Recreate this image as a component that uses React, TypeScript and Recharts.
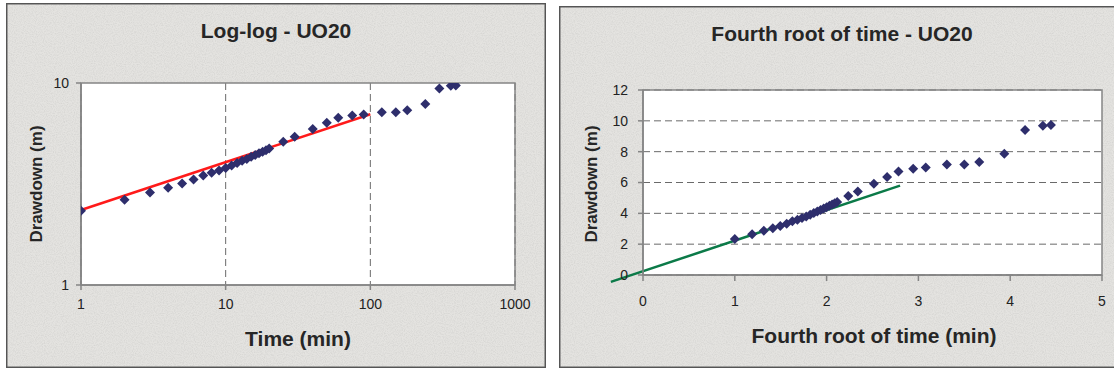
import { CartesianGrid, ReferenceArea, ReferenceLine, Scatter, ScatterChart, XAxis, YAxis } from "recharts";

// pumping test UO20, time since start of pumping (min) and drawdown (m)
const timeMin = [1, 2, 3, 4, 5, 6, 7, 8, 9, 10, 11, 12, 13, 14, 15, 16, 17, 18, 19, 20, 25, 30, 40, 50, 60, 75, 90, 120, 150, 180, 240, 300, 360, 390];
const drawdownM = [
  2.33, 2.64, 2.87, 3.03, 3.18, 3.33, 3.48, 3.59, 3.69, 3.79, 3.91, 4.02, 4.12, 4.21, 4.31, 4.4, 4.49, 4.57, 4.65, 4.74,
  5.12, 5.42, 5.92, 6.36, 6.72, 6.9, 6.98, 7.17, 7.17, 7.33, 7.86, 9.4, 9.68, 9.73,
];
// fourth root of the same times
const fourthRootTime = [
  1.0, 1.189, 1.316, 1.414, 1.495, 1.565, 1.627, 1.682, 1.732, 1.778, 1.821, 1.861, 1.899, 1.934, 1.968, 2.0, 2.031, 2.06, 2.088, 2.115,
  2.236, 2.34, 2.515, 2.659, 2.783, 2.943, 3.08, 3.31, 3.5, 3.663, 3.936, 4.162, 4.356, 4.444,
];

const logTicksX = [1, 10, 100, 1000];
const logTicksY = [1, 10];
const rootTicksX = [0, 1, 2, 3, 4, 5];
const rootTicksY = [0, 2, 4, 6, 8, 10, 12];

// fitted straight lines drawn by hand on each plot
const logFit = [{ x: 1, y: 2.35 }, { x: 100, y: 7.0 }];
const rootFit = [{ x: -0.35, y: -0.45 }, { x: 2.8, y: 5.8 }];

const FONT = "'Liberation Sans', Arial, sans-serif";
const NAVY = "#2e2e6c";
const AXIS = "#858585";
const PANEL = "#e4e3e0";

const logPoints = timeMin.map((t, i) => ({ t, d: drawdownM[i] }));
const rootPoints = fourthRootTime.map((r, i) => ({ r, d: drawdownM[i] }));

const Diamond = (props: any) => {
  const { cx, cy } = props;
  const s = 5;
  return <polygon points={`${cx},${cy - s} ${cx + s},${cy} ${cx},${cy + s} ${cx - s},${cy}`} fill={NAVY} />;
};

const tickStyle = { fill: "#222", fontSize: 14, fontFamily: FONT };

function LogChart() {
  return (
    <ScatterChart width={546} height={372} margin={{ top: 83, right: 31, bottom: 27, left: 21 }}>
      <CartesianGrid horizontal={false} stroke="#6a6a6a" strokeDasharray="7 4" fill="#fff" />
      <XAxis
        dataKey="t"
        type="number"
        scale="log"
        domain={[1, 1000]}
        ticks={logTicksX}
        allowDataOverflow
        height={60}
        tickSize={5}
        tickMargin={9}
        stroke={AXIS}
        strokeWidth={1.5}
        tick={tickStyle}
      />
      <YAxis
        dataKey="d"
        type="number"
        scale="log"
        domain={[1, 10]}
        ticks={logTicksY}
        allowDataOverflow
        width={60}
        tickSize={5}
        tickMargin={7}
        stroke={AXIS}
        strokeWidth={1.5}
        tick={tickStyle}
      />
      <ReferenceArea x1={1} x2={1000} y1={1} y2={10} fill="none" stroke={AXIS} strokeWidth={1.5} />
      <Scatter data={logPoints} shape={Diamond} isAnimationActive={false} />
      <ReferenceLine segment={logFit} stroke="#ff1a1a" strokeWidth={2.5} ifOverflow="visible" />
    </ScatterChart>
  );
}

function RootChart() {
  return (
    <ScatterChart width={558} height={372} margin={{ top: 90, right: 12, bottom: 37, left: 27 }}>
      <CartesianGrid vertical={false} stroke="#6a6a6a" strokeDasharray="7 4" fill="#fff" />
      <XAxis
        dataKey="r"
        type="number"
        domain={[0, 5]}
        ticks={rootTicksX}
        allowDataOverflow
        height={60}
        tickSize={6}
        tickMargin={15}
        stroke={AXIS}
        strokeWidth={1.5}
        tick={tickStyle}
      />
      <YAxis
        dataKey="d"
        type="number"
        domain={[0, 12]}
        ticks={rootTicksY}
        allowDataOverflow
        width={60}
        tickSize={5}
        tickMargin={10}
        stroke={AXIS}
        strokeWidth={1.5}
        tick={tickStyle}
      />
      <ReferenceArea x1={0} x2={5} y1={0} y2={12} fill="none" stroke={AXIS} strokeWidth={1.5} />
      <Scatter data={rootPoints} shape={Diamond} isAnimationActive={false} />
      <ReferenceLine segment={rootFit} stroke="#0b7a48" strokeWidth={2.5} ifOverflow="visible" />
    </ScatterChart>
  );
}

// granite-like speckled background of the chart panels
function PanelBackground() {
  return (
    <svg width={1114} height={372} style={{ position: "absolute", left: 0, top: 0 }}>
      <defs>
        <filter id="speckle" x="0" y="0" width="100%" height="100%">
          <feTurbulence type="fractalNoise" baseFrequency="0.9" numOctaves={2} seed={3} />
          <feColorMatrix type="matrix" values="0 0 0 0 0.45  0 0 0 0 0.45  0 0 0 0 0.44  0 0 0 -1.6 1.0" />
        </filter>
      </defs>
      <rect x={6.75} y={3.75} width={538.5} height={363.5} fill={PANEL} stroke="#555" strokeWidth={1.5} />
      <rect x={7.5} y={4.5} width={537} height={362} filter="url(#speckle)" opacity={0.35} />
      <rect x={559.75} y={6.75} width={570} height={360.5} fill={PANEL} stroke="#555" strokeWidth={1.5} />
      <rect x={560.5} y={7.5} width={570} height={359} filter="url(#speckle)" opacity={0.35} />
    </svg>
  );
}

export default function App() {
  return (
    <div style={{ position: "fixed", left: 0, top: 0, width: 1114, height: 372, overflow: "hidden", background: "#fff" }}>
      <PanelBackground />
      <div style={{ position: "absolute", left: 0, top: 0 }}>
        <LogChart />
      </div>
      <div style={{ position: "absolute", left: 556, top: 0 }}>
        <RootChart />
      </div>
      <svg
        width={1114}
        height={372}
        style={{ position: "absolute", left: 0, top: 0, pointerEvents: "none" }}
        fontFamily={FONT}
        fontWeight="bold"
        fill="#262626"
      >
        <text x={276} y={38} fontSize={21} textAnchor="middle">Log-log - UO20</text>
        <text x={298} y={346} fontSize={21} textAnchor="middle">Time (min)</text>
        <text transform="translate(42,184) rotate(-90)" fontSize={17} textAnchor="middle">Drawdown (m)</text>
        <text x={842} y={41} fontSize={21} textAnchor="middle">Fourth root of time - UO20</text>
        <text x={874} y={343} fontSize={21} textAnchor="middle">Fourth root of time (min)</text>
        <text transform="translate(597,184) rotate(-90)" fontSize={17} textAnchor="middle">Drawdown (m)</text>
      </svg>
    </div>
  );
}
